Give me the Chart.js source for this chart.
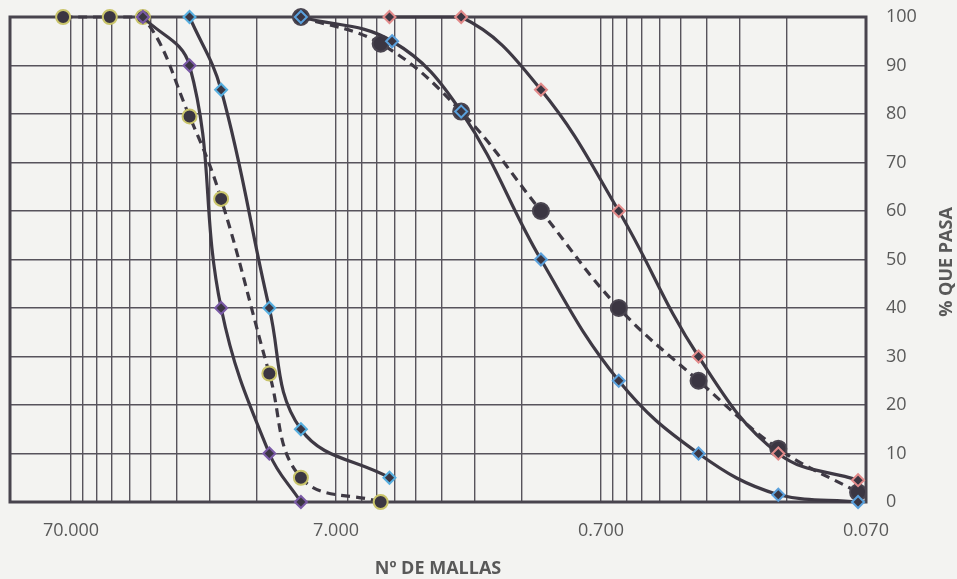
<!DOCTYPE html>
<html>
<head>
    <meta charset="UTF-8" />
    <title>Curva granulométrica</title>
    <script src="https://cdn.jsdelivr.net/npm/chart.js"></script>
    <style>
        html, body { margin: 0; padding: 0; background: #f3f3f1; }
        #contenedor { width: 957px; height: 579px; }
    </style>
</head>
<body>
    <div id="contenedor"><canvas id="curva"></canvas></div>
    <script>
        // Aberturas (mm) y % que pasa de cada curva
        const aberturaGrueso1 = [37.5, 25, 19, 12.5, 9.5];
        const pasaGrueso1 = [100, 90, 40, 10, 0];
        const aberturaGrueso2 = [25, 19, 12.5, 9.5, 4.4];
        const pasaGrueso2 = [100, 85, 40, 15, 5];
        const aberturaMuestraG = [75, 50, 37.5, 25, 19, 12.5, 9.5, 4.75];
        const pasaMuestraG = [100, 100, 100, 79.5, 62.5, 26.5, 5, 0];

        const aberturaFino1 = [4.4, 2.36, 1.18, 0.6, 0.3, 0.15, 0.075];
        const pasaFino1 = [100, 100, 85, 60, 30, 10, 4.5];
        const aberturaFino2 = [9.5, 4.3, 2.36, 1.18, 0.6, 0.3, 0.15, 0.075];
        const pasaFino2 = [100, 95, 80.5, 50, 25, 10, 1.5, 0];
        const aberturaMuestraF = [9.5, 4.75, 2.36, 1.18, 0.6, 0.3, 0.15, 0.075];
        const pasaMuestraF = [100, 94.5, 80.5, 60, 40, 25, 11, 2];

        // ejes
        const mallasPrincipales = [70, 7, 0.7, 0.07];
        const etiquetasMallas = ['70.000', '7.000', '0.700', '0.070'];
        const xMin = 0.07, xMax = 119;

        const lineaColor = '#3e3944';
        const relleno = '#3b3642';
        const gridColor = '#57535c';
        const texto = '#595959';

        function puntos(xs, ys) {
            return xs.map((x, i) => ({ x: x, y: ys[i] }));
        }

        function serie(xs, ys, estilo, borde, radio, punteada) {
            return {
                data: puntos(xs, ys),
                showLine: true,
                clip: false,
                borderColor: lineaColor,
                borderWidth: 3.2,
                borderDash: punteada ? [9, 6] : [],
                tension: 0.4,
                pointStyle: estilo,
                pointRadius: radio,
                pointBackgroundColor: relleno,
                pointBorderColor: borde,
                pointBorderWidth: 2
            };
        }

        // lineas verticales: principales y sus multiplos 2..9
        const lineasX = [];
        mallasPrincipales.forEach(m => {
            for (let k = 1; k <= 9; k++) {
                const v = m * k;
                if (v <= xMax) lineasX.push(v);
            }
        });

        const marco = {
            id: 'marco',
            beforeDatasetsDraw(chart) {
                const a = chart.chartArea;
                const c = chart.ctx;
                c.save();
                c.strokeStyle = '#48444e';
                c.lineWidth = 3;
                c.strokeRect(a.left, a.top, a.right - a.left, a.bottom - a.top);
                c.restore();
            },
            afterDraw(chart) {
                const a = chart.chartArea;
                const c = chart.ctx;
                c.save();
                c.fillStyle = texto;
                c.font = 'bold 18px "Open Sans"';
                c.textAlign = 'center';
                c.textBaseline = 'middle';
                c.fillText('Nº DE MALLAS', (a.left + a.right) / 2, 569);
                c.translate(947, 262);
                c.rotate(-Math.PI / 2);
                c.fillText('% QUE PASA', 0, 0);
                c.restore();
            }
        };

        const fondo = {
            id: 'fondo',
            beforeDraw(chart) {
                const c = chart.ctx;
                c.save();
                c.fillStyle = '#f3f3f1';
                c.fillRect(0, 0, chart.width, chart.height);
                c.restore();
            }
        };

        new Chart(document.getElementById('curva'), {
            type: 'scatter',
            data: {
                datasets: [
                    serie(aberturaGrueso1, pasaGrueso1, 'rectRot', '#7a5aa6', 6, false),
                    serie(aberturaGrueso2, pasaGrueso2, 'rectRot', '#55aee0', 6, false),
                    serie(aberturaMuestraG, pasaMuestraG, 'circle', '#c9c46a', 7, true),
                    serie(aberturaFino1, pasaFino1, 'rectRot', '#e28a8a', 6, false),
                    serie(aberturaFino2, pasaFino2, 'rectRot', '#5aa0dc', 6, false),
                    serie(aberturaMuestraF, pasaMuestraF, 'circle', '#4a4550', 8, true)
                ]
            },
            options: {
                responsive: true,
                maintainAspectRatio: false,
                animation: false,
                layout: { autoPadding: false, padding: { left: 10, top: 17, right: 21, bottom: 37 } },
                plugins: {
                    legend: { display: false },
                    tooltip: { enabled: false }
                },
                scales: {
                    x: {
                        type: 'logarithmic',
                        reverse: true,
                        min: xMin,
                        max: xMax,
                        afterBuildTicks: scale => {
                            scale.ticks = lineasX.map(v => ({ value: v }));
                        },
                        afterFit: scale => {
                            scale.height = 40;
                            scale.paddingLeft = 0;
                            scale.paddingRight = 0;
                        },
                        ticks: {
                            autoSkip: false,
                            maxRotation: 0,
                            padding: 18,
                            color: texto,
                            font: { family: 'Open Sans', size: 18 },
                            callback: value => {
                                const i = mallasPrincipales.findIndex(m => Math.abs(m - value) < 1e-9);
                                return i >= 0 ? etiquetasMallas[i] : '';
                            }
                        },
                        grid: { color: gridColor, lineWidth: 1.4, drawTicks: false },
                        border: { display: false }
                    },
                    y: {
                        position: 'right',
                        min: 0,
                        max: 100,
                        afterFit: scale => {
                            scale.width = 70;
                            scale.paddingTop = 0;
                            scale.paddingBottom = 0;
                        },
                        ticks: {
                            stepSize: 10,
                            padding: 20,
                            color: texto,
                            font: { family: 'Open Sans', size: 18 }
                        },
                        grid: { color: gridColor, lineWidth: 1.4, drawTicks: false },
                        border: { display: false }
                    }
                }
            },
            plugins: [fondo, marco]
        });
    </script>
</body>
</html>
